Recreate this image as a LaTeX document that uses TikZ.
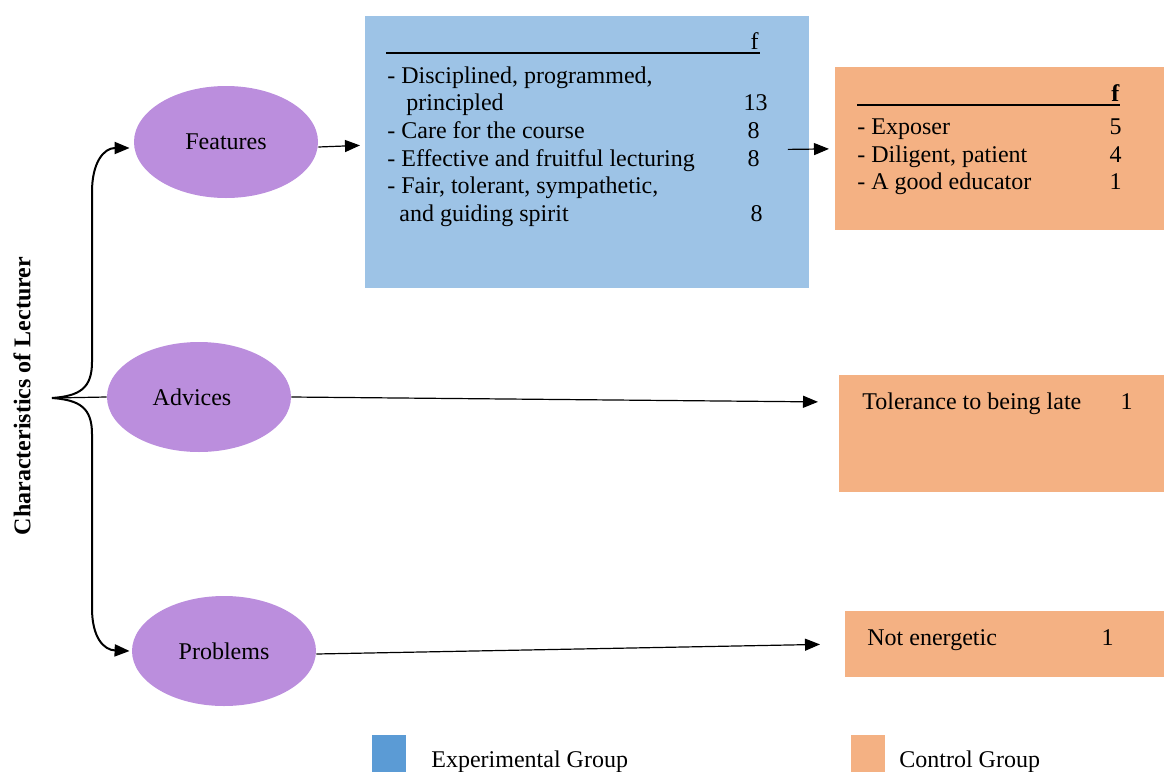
\documentclass[tikz,border=0pt]{standalone}
\usepackage{fontspec}
\setmainfont{Liberation Serif}
\usetikzlibrary{arrows.meta,shapes.geometric}
\definecolor{lecpurple}{RGB}{187,142,221}
\definecolor{expblue}{RGB}{157,195,230}
\definecolor{expkey}{RGB}{91,155,213}
\definecolor{ctrlorange}{RGB}{244,177,131}

\begin{document}
\begin{tikzpicture}[x=0.5pt, y=-0.5pt,
    every node/.style={font=\fontsize{12}{14}\selectfont, inner sep=0pt},
    theme/.style={ellipse, fill=lecpurple, minimum width=92pt, minimum height=56pt},
    panel/.style={anchor=north west, rectangle},
    item/.style={anchor=base west},
    freq/.style={anchor=base east},
    link/.style={-{Triangle[length=7.5pt,width=6pt]}, line width=0.6pt}]
    \useasboundingbox (0,0) rectangle (1164,772);

    % Title and themes
    \node[rotate=90] (title) at (22,396) {\textbf{Characteristics of Lecturer}};
    \node[theme] (feat) at (226,142) {Features};
    \node[theme, minimum height=55pt] (adv) at (199,397) {\hspace*{-7pt}Advices};
    \node[theme, minimum height=55pt] (prob) at (224,651) {Problems};

    % Brace
    \coordinate (tip) at (52,398);
    \draw[link, line width=1pt] (tip) .. controls (80,396) and (92,388) .. (92,362) -- (92,192)
      .. controls (92,162) and (104,148) .. ([shift={(-4,6)}]feat.west);
    \draw[link, line width=1pt] (tip) .. controls (80,400) and (92,408) .. (92,434) -- (92,608)
      .. controls (92,638) and (104,650) .. ([xshift=-1pt]prob.west);
    \draw[line width=0.6pt] (tip) -- (adv.west);

    % Experimental group
    \node[panel, fill=expblue, minimum width=222pt, minimum height=136pt] (featbox) at (365,16) {};
    \node[freq] (featf) at (759,49) {f};
    \draw[line width=1pt] (386,53) -- (760,53);
    \foreach \xpos/\ypos/\txt [count=\i] in {387/83/{- Disciplined, programmed,}, 406/110/{principled},
        387/138/{- Care for the course}, 387/166/{- Effective and fruitful lecturing},
        387/193/{- Fair, tolerant, sympathetic,}, 399/221/{and guiding spirit}} {
      \node[item] (featline\i) at (\xpos,\ypos) {\txt};
    }
    \foreach \xpos/\ypos/\num [count=\i] in {768/110/13, 760/138/8, 760/166/8, 763/221/8} {
      \node[freq] (featnum\i) at (\xpos,\ypos) {\num};
    }

    % Control group
    \node[panel, fill=ctrlorange, minimum width=164.5pt, minimum height=81.5pt] (ctrlbox) at (835,67) {};
    \node[freq] (ctrlf) at (1120,101) {\textbf{f}};
    \draw[line width=1pt] (857,104.5) -- (1120,104.5);
    \foreach \ypos/\txt/\num [count=\i] in {134/{- Exposer}/5, 162/{- Diligent, patient}/4, 189/{- A good educator}/1} {
      \node[item] (ctrlline\i) at (857,\ypos) {\txt};
      \node[freq] (ctrlnum\i) at (1122,\ypos) {\num};
    }
    \node[panel, fill=ctrlorange, minimum width=162.5pt, minimum height=58.5pt] (advbox) at (839,375) {};
    \node[item] (advline) at (862,409) {Tolerance to being late};
    \node[freq] (advnum) at (1133,409) {1};
    \node[panel, fill=ctrlorange, minimum width=159.5pt, minimum height=33pt] (probbox) at (845,611) {};
    \node[item] (probline) at (867,645) {Not energetic};
    \node[freq] (probnum) at (1114,645) {1};

    % Connectors
    \draw[link] ([yshift=-2.5pt]feat.east) -- ([shift={(-5,-7)}]featbox.west);
    \draw[link] ([shift={(-22,-3)}]featbox.east) -- ([xshift=-3pt]ctrlbox.west);
    \draw[link] (adv.east) -- ([shift={(-21,-32)}]advbox.west);
    \draw[link] ([yshift=-1.5pt]prob.east) -- ([xshift=-12.5pt]probbox.west);

    % Legend
    \node[panel, fill=expkey, minimum width=17pt, minimum height=18.5pt] (expkey) at (372,735) {};
    \node[item] (explabel) at (431,767) {Experimental Group};
    \node[panel, fill=ctrlorange, minimum width=17pt, minimum height=18.5pt] (ctrlkey) at (851,735) {};
    \node[item] (ctrllabel) at (899,767) {Control Group};
\end{tikzpicture}
\end{document}
